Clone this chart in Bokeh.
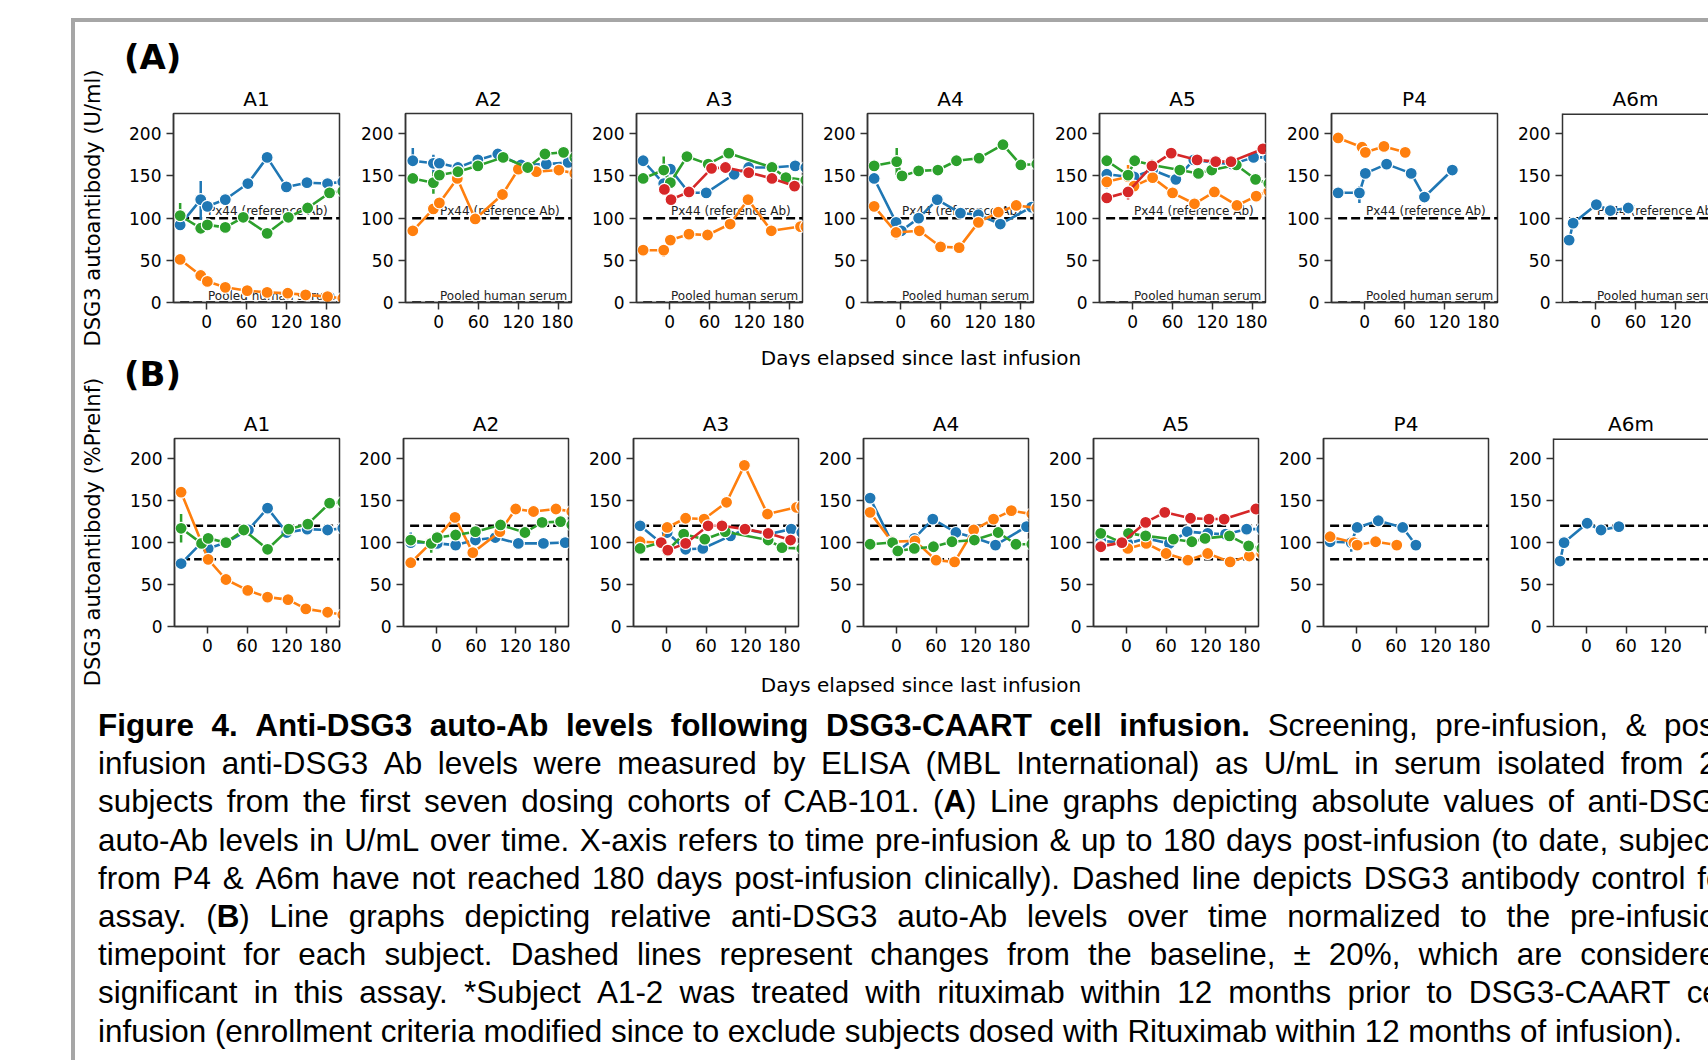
from bokeh.plotting import figure
from bokeh.models import Range1d, FixedTicker, Div, Span
from bokeh.layouts import row, column
from bokeh.embed import file_html
from bokeh.resources import INLINE
from bokeh.core.properties import value

NaN = float("nan")
BLUE, ORANGE, GREEN, RED = "#1f77b4", "#ff7f0e", "#2ca02c", "#d62728"

PANELS = ["A1", "A2", "A3", "A4", "A5", "P4", "A6m"]
X_TICKS = [0, 60, 120, 180]
Y_TICKS = [0, 50, 100, 150, 200]
X_MIN, X_SPAN = -50, 250
Y_MIN, Y_MAX = 0, 224
REF_START_DAY = -40
REF_LINES_A = [100, 0]
REF_LINES_B = [120, 80]
REF_TEXT_A = ["Px44 (reference Ab)", "Pooled human serum"]
YLABEL_A = "DSG3 autoantibody (U/ml)"
YLABEL_B = "DSG3 autoantibody (%PreInf)"
XLABEL = "Days elapsed since last infusion"

# ---- A1 ----
A1_BLUE_DAYS = [-40, -9, 1, 28, 62, 91, 120, 151, 182, 205]
A1_BLUE_ABS = [92, 122, 114, 122, 141, 172, 137, 142, 141, 143]
A1_BLUE_REL = [75, 100, 93, 100, 115, 141, 112, 116, 115, 117]
A1_ORANGE_DAYS = [-40, -9, 1, 28, 61, 91, 122, 149, 182, 205]
A1_ORANGE_ABS = [51, 32, 25, 18, 14, 12, 11, 9, 7, 5]
A1_ORANGE_REL = [160, 100, 80, 56, 43, 35, 32, 21, 17, 14]
A1_GREEN_DAYS = [-40, -9, 1, 28, 55, 91, 123, 152, 185, 205]
A1_GREEN_ABS = [103, 88, 92, 89, 101, 82, 101, 112, 130, 132]
A1_GREEN_REL = [117, 99, 105, 100, 115, 92, 116, 122, 147, 148]
# ---- A2 ----
A2_BLUE_DAYS = [-39, -8, 1, 29, 59, 89, 124, 162, 195]
A2_BLUE_ABS = [168, 165, 165, 160, 169, 176, 163, 164, 166]
A2_BLUE_REL = [100, 100, 99, 97, 103, 106, 99, 99, 100]
A2_ORANGE_DAYS = [-39, -8, 1, 28, 55, 96, 120, 147, 181, 205]
A2_ORANGE_ABS = [85, 111, 118, 147, 99, 128, 158, 155, 157, 153]
A2_ORANGE_REL = [76, 100, 106, 130, 88, 113, 140, 137, 140, 137]
A2_GREEN_DAYS = [-39, -8, 1, 29, 59, 97, 134, 160, 188, 205]
A2_GREEN_ABS = [147, 142, 151, 155, 162, 172, 160, 176, 178, 172]
A2_GREEN_REL = [103, 99, 106, 109, 113, 121, 112, 124, 125, 121]
# ---- A3 ----
A3_BLUE_DAYS = [-40, -9, 1, 29, 55, 97, 119, 154, 189, 205]
A3_BLUE_ABS = [168, 141, 158, 130, 130, 152, 160, 160, 162, 160]
A3_BLUE_REL = [120, 100, 112, 92, 93, 108, 116, 110, 116, 112]
A3_ORANGE_DAYS = [-40, -9, 1, 29, 57, 91, 118, 153, 197, 205]
A3_ORANGE_ABS = [62, 62, 74, 81, 80, 93, 122, 85, 90, 90]
A3_ORANGE_REL = [101, 100, 118, 129, 128, 148, 192, 134, 142, 143]
A3_GREEN_DAYS = [-40, -9, 1, 26, 58, 89, 154, 175, 205]
A3_GREEN_ABS = [147, 157, 142, 173, 164, 177, 160, 148, 145]
A3_GREEN_REL = [93, 100, 90, 110, 104, 113, 103, 94, 93]
A3_RED_DAYS = [-8, 2, 29, 63, 84, 119, 154, 188]
A3_RED_ABS = [134, 122, 131, 159, 160, 154, 147, 138]
A3_RED_REL = [100, 91, 99, 120, 120, 116, 111, 103]
# ---- A4 ----
A4_BLUE_DAYS = [-40, -7, 1, 27, 55, 90, 117, 150, 197]
A4_BLUE_ABS = [147, 95, 85, 100, 122, 106, 104, 93, 113]
A4_BLUE_REL = [153, 100, 89, 105, 128, 112, 106, 97, 119]
A4_ORANGE_DAYS = [-40, -7, 28, 60, 88, 117, 147, 174, 205]
A4_ORANGE_ABS = [114, 83, 85, 66, 65, 95, 107, 115, 112]
A4_ORANGE_REL = [136, 101, 102, 79, 77, 115, 128, 138, 134]
A4_GREEN_DAYS = [-40, -6, 2, 27, 56, 84, 118, 154, 181, 205]
A4_GREEN_ABS = [162, 167, 150, 156, 157, 168, 171, 187, 163, 164]
A4_GREEN_REL = [98, 100, 90, 93, 95, 101, 103, 112, 98, 98]
# ---- A5 ----
A5_BLUE_DAYS = [-39, -7, 2, 30, 65, 92, 123, 150, 182, 205]
A5_BLUE_ABS = [152, 149, 149, 157, 146, 169, 166, 164, 172, 172]
A5_BLUE_REL = [102, 100, 99, 105, 99, 113, 111, 110, 116, 116]
A5_ORANGE_DAYS = [-39, -7, 2, 30, 60, 93, 123, 157, 186, 205]
A5_ORANGE_ABS = [143, 149, 138, 148, 130, 117, 131, 115, 126, 132]
A5_ORANGE_REL = [96, 100, 93, 99, 87, 79, 87, 77, 84, 87]
A5_GREEN_DAYS = [-39, -7, 3, 29, 71, 99, 119, 156, 185, 205]
A5_GREEN_ABS = [168, 151, 168, 163, 157, 153, 157, 163, 146, 141]
A5_GREEN_REL = [111, 100, 111, 108, 104, 101, 105, 108, 96, 93]
A5_RED_DAYS = [-39, -7, 29, 58, 97, 125, 148, 196, 215]
A5_RED_ABS = [124, 131, 162, 177, 169, 167, 167, 182, 185]
A5_RED_REL = [95, 100, 124, 136, 129, 128, 128, 140, 141]
# ---- P4 ----
P4_BLUE_DAYS = [-40, -8, 1, 33, 70, 90, 132]
P4_BLUE_ABS = [130, 130, 153, 164, 153, 125, 157]
P4_BLUE_REL = [101, 100, 118, 126, 118, 97, NaN]
P4_ORANGE_DAYS = [-40, -4, 1, 29, 61]
P4_ORANGE_ABS = [195, 184, 178, 185, 178]
P4_ORANGE_REL = [107, 100, 97, 101, 97]
# ---- A6m ----
A6M_BLUE_DAYS = [-40, -34, 1, 22, 49]
A6M_BLUE_ABS = [74, 94, 116, 109, 112]
A6M_BLUE_REL = [78, 100, 123, 115, 119]

SERIES = {
    "A1": [(BLUE, A1_BLUE_DAYS, A1_BLUE_ABS, A1_BLUE_REL),
           (ORANGE, A1_ORANGE_DAYS, A1_ORANGE_ABS, A1_ORANGE_REL),
           (GREEN, A1_GREEN_DAYS, A1_GREEN_ABS, A1_GREEN_REL)],
    "A2": [(BLUE, A2_BLUE_DAYS, A2_BLUE_ABS, A2_BLUE_REL),
           (ORANGE, A2_ORANGE_DAYS, A2_ORANGE_ABS, A2_ORANGE_REL),
           (GREEN, A2_GREEN_DAYS, A2_GREEN_ABS, A2_GREEN_REL)],
    "A3": [(BLUE, A3_BLUE_DAYS, A3_BLUE_ABS, A3_BLUE_REL),
           (ORANGE, A3_ORANGE_DAYS, A3_ORANGE_ABS, A3_ORANGE_REL),
           (GREEN, A3_GREEN_DAYS, A3_GREEN_ABS, A3_GREEN_REL),
           (RED, A3_RED_DAYS, A3_RED_ABS, A3_RED_REL)],
    "A4": [(BLUE, A4_BLUE_DAYS, A4_BLUE_ABS, A4_BLUE_REL),
           (ORANGE, A4_ORANGE_DAYS, A4_ORANGE_ABS, A4_ORANGE_REL),
           (GREEN, A4_GREEN_DAYS, A4_GREEN_ABS, A4_GREEN_REL)],
    "A5": [(BLUE, A5_BLUE_DAYS, A5_BLUE_ABS, A5_BLUE_REL),
           (ORANGE, A5_ORANGE_DAYS, A5_ORANGE_ABS, A5_ORANGE_REL),
           (GREEN, A5_GREEN_DAYS, A5_GREEN_ABS, A5_GREEN_REL),
           (RED, A5_RED_DAYS, A5_RED_ABS, A5_RED_REL)],
    "P4": [(BLUE, P4_BLUE_DAYS, P4_BLUE_ABS, P4_BLUE_REL),
           (ORANGE, P4_ORANGE_DAYS, P4_ORANGE_ABS, P4_ORANGE_REL)],
    "A6m": [(BLUE, A6M_BLUE_DAYS, A6M_BLUE_ABS, A6M_BLUE_REL)],
}

# error bars: (colour, day, low, high)
ERR_ABS = {
    "A1": [(BLUE, -9, 98, 144), (GREEN, -40, 94, 118)],
    "A2": [(BLUE, -39, 161, 183), (BLUE, -8, 153, 175), (GREEN, -8, 129, 155)],
    "A3": [(GREEN, -9, 151, 173), (ORANGE, -9, 54, 68)],
    "A4": [(GREEN, -6, 151, 183), (ORANGE, -7, 75, 86)],
    "A5": [(BLUE, -39, 135, 157), (RED, -7, 122, 138), (ORANGE, -7, 143, 163)],
    "P4": [(BLUE, -8, 118, 138)],
    "A6m": [],
}
ERR_REL = {
    "A1": [(GREEN, -40, 100, 134)],
    "A2": [(BLUE, -39, 94, 112), (GREEN, -8, 88, 106)],
    "A3": [], "A4": [], "A5": [],
    "P4": [(BLUE, -8, 89, 103)],
    "A6m": [],
}

CAPTION_LINES = [
    "Figure 4. Anti-DSG3 auto-Ab levels following DSG3-CAART cell infusion. Screening, pre-infusion, &amp; post-",
    "infusion anti-DSG3 Ab levels were measured by ELISA (MBL International) as U/mL in serum isolated from 20",
    "subjects from the first seven dosing cohorts of CAB-101. (<b>A</b>) Line graphs depicting absolute values of anti-DSG3",
    "auto-Ab levels in U/mL over time. X-axis refers to time pre-infusion &amp; up to 180 days post-infusion (to date, subjects",
    "from P4 &amp; A6m have not reached 180 days post-infusion clinically). Dashed line depicts DSG3 antibody control for",
    "assay. (<b>B</b>) Line graphs depicting relative anti-DSG3 auto-Ab levels over time normalized to the pre-infusion",
    "timepoint for each subject. Dashed lines represent changes from the baseline, ± 20%, which are considered",
    "significant in this assay. *Subject A1-2 was treated with rituximab within 12 months prior to DSG3-CAART cell",
    "infusion (enrollment criteria modified since to exclude subjects dosed with Rituximab within 12 months of infusion).",
]
CAPTION_BOLD_WORDS = 9  # leading bold words of the first line

# ---------------- layout constants ----------------
FONT = "DejaVu Sans"
FONT_CSS = "'DejaVu Sans', sans-serif"
SPINE = "#333333"
GRAY = "#a6a6a6"
PAGE_W, PAGE_H = 1708, 1060
LEFT_GAP, TOP_GAP, BAR = 71, 18, 4
CONTENT_W = PAGE_W - LEFT_GAP - BAR          # 1633
LABEL_W = 36
PLOTS_W = CONTENT_W - LABEL_W                # 1597
A_BORDERS = [(62, 2), (64, 2), (63, 2), (63, 2), (64, 2), (64, 2), (63, 0)]
A_WIDTHS = [230, 232, 231, 231, 232, 232, 209]
B_BORDERS = [(63, 2), (62, 2), (63, 2), (63, 2), (63, 2), (63, 2), (63, 0)]
B_WIDTHS = [230, 229, 230, 230, 230, 230, 218]
A_FRAME_W, B_FRAME_W = 166, 165
HEADER_H, ROW_H, MID_H, XLAB_H = 58, 260, 60, 47
CAPTION_H = PAGE_H - TOP_GAP - BAR - HEADER_H - 2 * ROW_H - MID_H - XLAB_H
CAPTION_TEXT_W = 1636


def make_panel(name, idx, widths, borders, frame_full, height, top, bottom,
               values_key, errs, ref_lines):
    width = widths[idx]
    left, right = borders[idx]
    frame_w = width - left - right
    xmax = X_MIN + frame_w * X_SPAN / frame_full
    last = idx == len(widths) - 1
    p = figure(width=width, height=height, x_range=Range1d(X_MIN, xmax),
               y_range=Range1d(Y_MIN, Y_MAX), output_backend="svg",
               toolbar_location=None, min_border_left=left,
               min_border_right=right, min_border_top=top,
               min_border_bottom=bottom, title=name)
    p.title.align = "center"
    p.title.text_font = FONT
    p.title.text_font_size = "20px"
    p.title.text_font_style = "normal"
    p.title.text_color = "black"
    p.title.standoff = 6
    p.xgrid.visible = False
    p.ygrid.visible = False
    p.background_fill_color = "white"
    p.border_fill_color = "white"
    if last:
        p.outline_line_color = None
        p.add_layout(Span(location=Y_MAX, dimension="width", line_color=SPINE,
                          line_width=3))
    else:
        p.outline_line_color = SPINE
        p.outline_line_width = 1.5
        p.outline_line_alpha = 1.0
    p.xaxis.ticker = FixedTicker(ticks=X_TICKS)
    p.yaxis.ticker = FixedTicker(ticks=Y_TICKS)
    if last:
        # the last tick label is cut by the page edge in the original
        p.xaxis.major_label_overrides = {X_TICKS[-1]: ""}
    for ax in (p.xaxis, p.yaxis):
        ax.axis_line_color = SPINE
        ax.axis_line_width = 1.5
        ax.major_tick_line_color = SPINE
        ax.major_tick_line_width = 1.5
        ax.major_tick_out = 7
        ax.major_tick_in = 0
        ax.minor_tick_line_color = None
        ax.major_label_text_font = FONT
        ax.major_label_text_font_size = "17px"
        ax.major_label_text_color = "black"
        ax.major_label_standoff = 5

    # reference dashed lines
    p.segment(x0=[REF_START_DAY] * len(ref_lines), y0=ref_lines,
              x1=[X_MIN + X_SPAN + 60] * len(ref_lines), y1=ref_lines,
              line_color="black", line_width=2.5, line_dash="9 4")
    if values_key == 2:
        p.text(x=[2, 2], y=REF_LINES_A, text=REF_TEXT_A,
               text_font=value(FONT), text_font_size="12px",
               text_color="#222222", text_align="left",
               text_baseline="bottom")

    for color, day, lo, hi in errs:
        p.segment(x0=[day], y0=[lo], x1=[day], y1=[hi], line_color=color,
                  line_width=2.5)
    for s in SERIES[name]:
        color, days, vals = s[0], s[1], s[values_key]
        p.line(days, vals, line_color=color, line_width=2.6)
        p.scatter(days, vals, size=12, fill_color=color, line_color="white",
                  line_width=1.2)
    return p


def div(w, h, html="", **kw):
    return Div(width=w, height=h, text=html, margin=0, **kw)


row_a = [make_panel(n, i, A_WIDTHS, A_BORDERS, A_FRAME_W, ROW_H, 33, 38, 2,
                    ERR_ABS[n], REF_LINES_A)
         for i, n in enumerate(PANELS)]
row_b = [make_panel(n, i, B_WIDTHS, B_BORDERS, B_FRAME_W, ROW_H, 38, 34, 3,
                    ERR_REL[n], REF_LINES_B)
         for i, n in enumerate(PANELS)]


def rot_label(text, w, h, cy):
    return div(w, h, (
        f'<div style="position:relative;width:{w}px;height:{h}px;">'
        f'<div style="position:absolute;left:18px;top:{cy}px;'
        'transform:translate(-50%,-50%) rotate(-90deg);white-space:nowrap;'
        f'font-family:{FONT_CSS};font-size:21px;line-height:24px;color:#000;">'
        f'{text}</div></div>'))


def panel_tag(text, top):
    return (f'<div style="position:absolute;left:13px;top:{top}px;font-family:{FONT_CSS};'
            f'font-weight:bold;font-size:34px;line-height:34px;color:#000;">{text}</div>')


def xlabel_html(top, clip_h):
    return (f'<div style="position:absolute;left:0;top:0;width:{PLOTS_W}px;height:{clip_h}px;overflow:hidden;">'
            f'<div style="position:absolute;left:510px;top:{top}px;width:600px;text-align:center;'
            f'font-family:{FONT_CSS};font-size:20px;line-height:20px;color:#000;white-space:nowrap;">'
            f'{XLABEL}</div></div>')


label_a = rot_label(YLABEL_A, LABEL_W, HEADER_H + ROW_H + MID_H, 186)
label_b = rot_label(YLABEL_B, LABEL_W, ROW_H + XLAB_H, 132)

header_a = div(PLOTS_W, HEADER_H,
               f'<div style="position:relative;width:{PLOTS_W}px;height:{HEADER_H}px;">'
               + panel_tag("(A)", 18) + '</div>')
mid = div(PLOTS_W, MID_H,
          f'<div style="position:relative;width:{PLOTS_W}px;height:{MID_H}px;">'
          + xlabel_html(8, 27) + panel_tag("(B)", 17) + '</div>')
xlab_b = div(PLOTS_W, XLAB_H,
             f'<div style="position:relative;width:{PLOTS_W}px;height:{XLAB_H}px;">'
             + xlabel_html(15, XLAB_H) + '</div>')


def caption_html():
    parts = []
    for li, line in enumerate(CAPTION_LINES):
        toks = line.split(" ")
        if li == len(CAPTION_LINES) - 1:
            parts.append(f'<div style="white-space:nowrap;">{line}</div>')
            continue
        spans = []
        for ti, t in enumerate(toks):
            w = "bold" if (li == 0 and ti < CAPTION_BOLD_WORDS) else "normal"
            spans.append(f'<span style="font-weight:{w};">{t}</span>')
        parts.append('<div style="display:flex;justify-content:space-between;'
                     f'white-space:nowrap;width:{CAPTION_TEXT_W}px;">' + "".join(spans) + '</div>')
    return (f'<div style="position:relative;width:{CONTENT_W}px;height:{CAPTION_H}px;overflow:hidden;">'
            f'<div style="position:absolute;left:23px;top:0;width:{CAPTION_TEXT_W}px;'
            "font-family:'Liberation Sans', Arial, sans-serif;font-size:31.4px;"
            'line-height:38.2px;color:#000;">' + "".join(parts) + '</div></div>')


caption = div(CONTENT_W, CAPTION_H, caption_html())

content = column(
    row(label_a, column(header_a, row(*row_a), mid)),
    row(label_b, column(row(*row_b), xlab_b)),
    caption,
)

top_line = div(PAGE_W - LEFT_GAP, BAR, styles={"background-color": GRAY})
left_bar = div(BAR, PAGE_H - TOP_GAP - BAR, styles={"background-color": GRAY})

layout = column(
    div(PAGE_W, TOP_GAP),
    row(div(LEFT_GAP, BAR), top_line),
    row(div(LEFT_GAP, PAGE_H - TOP_GAP - BAR), left_bar, content),
)

open("out.html", "w").write(file_html(layout, INLINE))
